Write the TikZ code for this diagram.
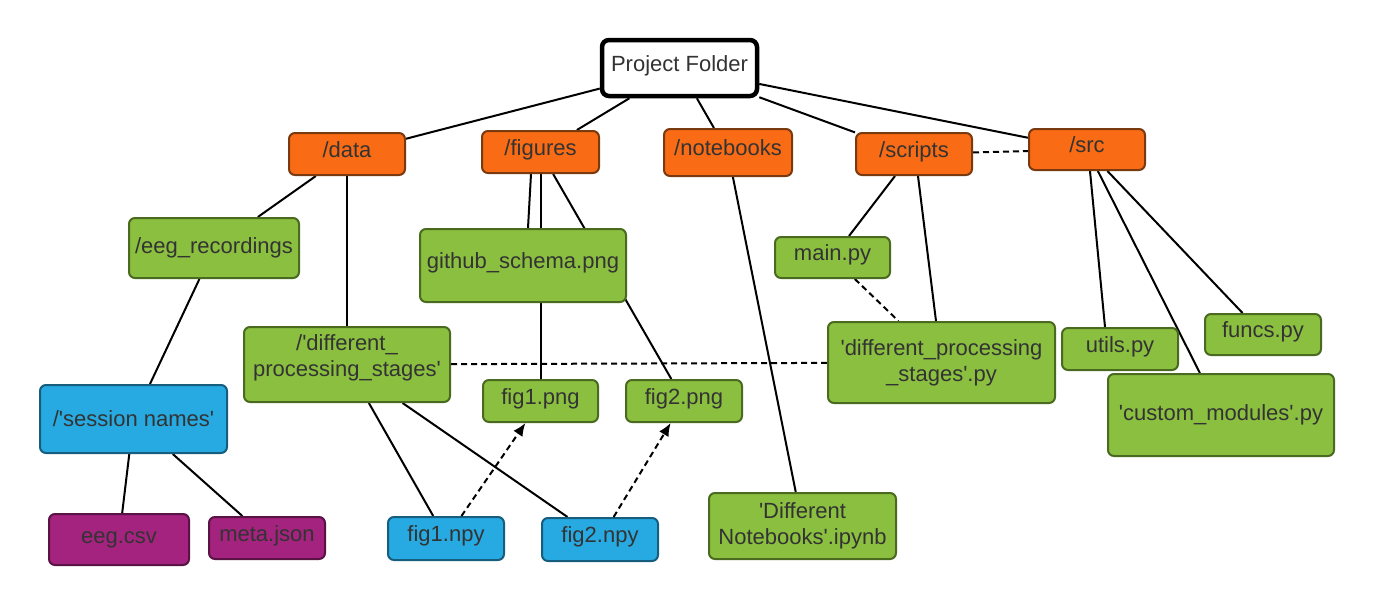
\documentclass[tikz,border=0pt]{standalone}
\usepackage{fontspec}
\setmainfont{Liberation Sans}
\usetikzlibrary{arrows.meta,backgrounds}
\definecolor{txt}{HTML}{333333}
\definecolor{orf}{HTML}{F96B14}
\definecolor{ord}{HTML}{7A3A10}
\definecolor{grf}{HTML}{8BBF40}
\definecolor{grd}{HTML}{4A6A1F}
\definecolor{blf}{HTML}{27AAE1}
\definecolor{bld}{HTML}{175E7E}
\definecolor{puf}{HTML}{A4237F}
\definecolor{pud}{HTML}{5A1345}
\newcommand{\sq}{\textquotesingle}
\tikzset{
  box/.style={rounded corners=6pt, line width=2pt, inner sep=0pt, text=txt,
    font=\fontsize{22}{27}\selectfont, align=center},
  up/.style={text height=16pt, text depth=10pt},
  orangebox/.style={box, up, fill=orf, draw=ord},
  greenbox/.style={box, fill=grf, draw=grd},
  bluebox/.style={box, fill=blf, draw=bld},
  purplebox/.style={box, fill=puf, draw=pud},
  conn/.style={line width=2pt, black},
  dconn/.style={line width=2pt, black, dash pattern=on 6pt off 4pt},
  darrow/.style={dconn, -{Latex[length=13pt,width=11pt]}},
  sz/.style 2 args={minimum width=#1pt, minimum height=#2pt}
}
\begin{document}
\begin{tikzpicture}[x=1pt,y=-1pt]
\useasboundingbox (0,0) rectangle (1374,606);
% top
\node[box, up, fill=white, draw=black, line width=4.5pt, rounded corners=7pt, sz={155}{56}] (pf) at (679.5,68) {Project Folder};
\node[orangebox, sz={116}{42}] (data) at (347,154) {/data};
\node[orangebox, sz={117}{42}] (figures) at (540.5,152) {/figures};
\node[orangebox, sz={128}{47}] (notebooks) at (728,152.5) {/notebooks};
\node[orangebox, sz={116}{42}] (scripts) at (914,154) {/scripts};
\node[orangebox, sz={116}{41}] (src) at (1087,149.5) {/src};
% second level
\node[greenbox, sz={170}{60}] (eegrec) at (214,248) {/eeg\_recordings};
\node[greenbox, up, sz={206}{73}] (github) at (523,265.5) {github\_schema.png};
\node[greenbox, up, sz={115}{41}] (main) at (832.5,257.5) {main.py};
\node[greenbox, sz={206}{75}] (dps) at (347,364.5) {\parbox{206pt}{\centering /\sq different\_\\[-1pt]processing\_stages\sq\par\vspace*{14pt}}};
\node[greenbox, sz={227}{81}] (dpspy) at (941.5,362.5) {\raisebox{5pt}{\parbox{227pt}{\centering \sq different\_processing\\[-1pt]\_stages\sq.py}}};
\node[greenbox, up, sz={116}{42}] (utils) at (1120,349) {utils.py};
\node[greenbox, up, sz={116}{41}] (funcs) at (1263,334.5) {funcs.py};
\node[greenbox, sz={226}{82}] (custom) at (1221,415) {\sq custom\_modules\sq.py};
\node[bluebox, sz={187}{68}] (session) at (133.5,419) {/\sq session names\sq};
\node[greenbox, up, sz={115}{42}] (fig1png) at (540.5,401) {fig1.png};
\node[greenbox, up, sz={116}{42}] (fig2png) at (684,401) {fig2.png};
\node[purplebox, sz={140}{51}] (eegcsv) at (119,539.5) {eeg.csv};
\node[purplebox, up, sz={116}{42}] (meta) at (267,538) {meta.json};
\node[bluebox, up, sz={116}{43}] (fig1npy) at (446,538.5) {fig1.npy};
\node[bluebox, up, sz={116}{43}] (fig2npy) at (600,539.5) {fig2.npy};
\node[greenbox, sz={187}{66}] (nb) at (802.5,526) {\raisebox{5pt}{\parbox{187pt}{\centering \sq Different\\[-1pt]Notebooks\sq.ipynb}}};
\begin{pgfonlayer}{background}
\draw[conn] (pf) -- (data);
\draw[conn] (pf) -- (figures);
\draw[conn] (pf) -- (notebooks);
\draw[conn] (pf) -- (scripts);
\draw[conn] (pf) -- (src);
\draw[dconn] (scripts) -- (src);
\draw[conn] (data) -- (eegrec);
\draw[conn] (data) -- (dps);
\draw[conn] (eegrec) -- (session);
\draw[conn] (session) -- (eegcsv);
\draw[conn] (session) -- (meta);
\draw[conn] ([xshift=-9.5pt]figures.south) -- ([xshift=5pt]github.north);
\draw[conn] (figures) -- (fig1png);
\draw[conn] (figures) -- (fig2png);
\draw[conn] (notebooks) -- (nb);
\draw[conn] ([xshift=-19pt]scripts.south) -- ([xshift=16.5pt]main.north);
\draw[conn] ([xshift=4pt]scripts.south) -- ([xshift=-5.5pt]dpspy.north);
\draw[dconn] (main) -- (dpspy);
\draw[dconn] (dps) -- (dpspy);
\draw[conn] ([xshift=3pt]src.south) -- ([xshift=-15pt]utils.north);
\draw[conn] (src) -- (custom);
\draw[conn] (src) -- (funcs);
\draw[conn] (dps) -- (fig1npy);
\draw[conn] (dps) -- (fig2npy);
\end{pgfonlayer}
\draw[darrow] (fig1npy) -- (fig1png);
\draw[darrow] (fig2npy) -- (fig2png);
\end{tikzpicture}
\end{document}
